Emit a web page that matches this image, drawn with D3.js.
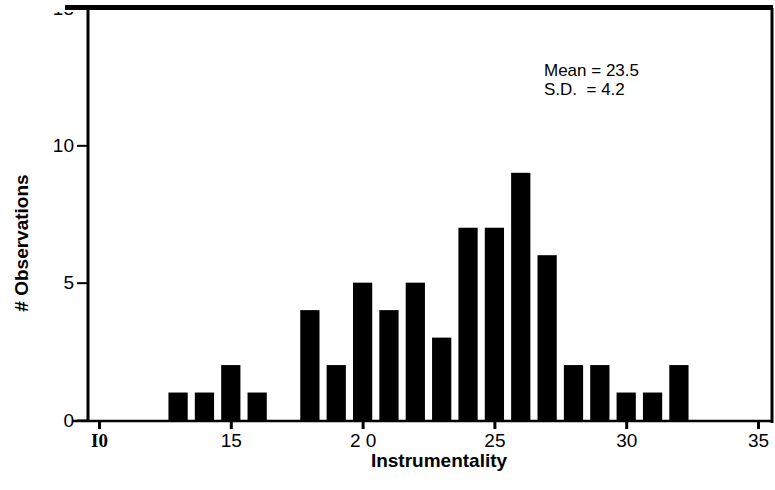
<!DOCTYPE html>
<html><head><meta charset="utf-8">
<script src="https://cdn.jsdelivr.net/npm/d3@7/dist/d3.min.js"></script>
<style>body{margin:0;background:#fff}svg{display:block}</style>
</head><body>
<script>
const scores = [13,14,15,16,17,18,19,20,21,22,23,24,25,26,27,28,29,30,31,32];
const counts = [1,1,2,1,0,4,2,5,4,5,3,7,7,9,6,2,2,1,1,2];
const xTickValues = [10,15,20,25,30,35];
const xTickLabels = ["I0","15","2 0","25","30","35"];
const yTickValues = [0,5,10,15];
const statsLines = ["Mean = 23.5","S.D.  = 4.2"];

const W = 775, H = 490;
const svg = d3.select("body").append("svg").attr("width", W).attr("height", H);
const x = d3.scaleLinear().domain([10,35]).range([99,758]);
const y = d3.scaleLinear().domain([0,15]).range([420,8]);
const bw = (x(1)-x(0))*0.73;

// bars
svg.append("g").selectAll("rect").data(scores.map((s,i)=>({s,c:counts[i]})).filter(d=>d.c>0))
  .join("rect")
  .attr("x", d=>x(d.s)-bw/2).attr("width", bw)
  .attr("y", d=>y(d.c)).attr("height", d=>y(0)-y(d.c))
  .attr("fill","#000");

// frame
svg.append("line").attr("x1",65).attr("x2",773).attr("y1",7.5).attr("y2",7.5).attr("stroke","#000").attr("stroke-width",5);
svg.append("line").attr("x1",772).attr("x2",772).attr("y1",8).attr("y2",423).attr("stroke","#000").attr("stroke-width",3);

// x axis
const xa = svg.append("g").attr("transform","translate(0,421)")
  .call(d3.axisBottom(x).tickValues(xTickValues).tickSize(8).tickFormat((d,i)=>xTickLabels[i]));
xa.select(".domain").remove();
xa.append("line").attr("x1",73).attr("x2",773).attr("stroke","#000").attr("stroke-width",2.5);
xa.selectAll(".tick line").attr("stroke","#000").attr("stroke-width",3);
xa.selectAll(".tick text").attr("fill","#000")
  .attr("font-size",19).attr("dy","0.75em").attr("y",12)
  .attr("font-weight",(d,i)=>i===0?"bold":"normal")
  .attr("font-family",(d,i)=>i===0?"Liberation Serif, serif":"Liberation Sans, Arial, sans-serif");

// y axis (top tick label partially cut off, as in the reference)
svg.append("clipPath").attr("id","c").append("rect").attr("x",-100).attr("y",12).attr("width",W).attr("height",H);
const ya = svg.append("g").attr("transform","translate(88,0)").attr("clip-path","url(#c)")
  .call(d3.axisLeft(y).tickValues(yTickValues).tickSize(11).tickFormat(d3.format("d")));
ya.select(".domain").remove();
ya.selectAll(".tick line").attr("stroke","#000").attr("stroke-width",2);
ya.selectAll(".tick text").attr("fill","#000").attr("font-family","Liberation Sans, Arial, sans-serif")
  .attr("font-size",19).attr("x",-14);
svg.append("line").attr("x1",88).attr("x2",88).attr("y1",8).attr("y2",422).attr("stroke","#000").attr("stroke-width",3);

// titles
svg.append("text").attr("x",439).attr("y",467).attr("text-anchor","middle")
  .attr("font-family","Liberation Sans, Arial, sans-serif").attr("font-weight","bold").attr("font-size",19)
  .text("Instrumentality");
svg.append("text").attr("transform","translate(28,243) rotate(-90)").attr("text-anchor","middle")
  .attr("font-family","Liberation Sans, Arial, sans-serif").attr("font-weight","bold").attr("font-size",19)
  .text("# Observations");

// stats
svg.append("g").selectAll("text").data(statsLines).join("text")
  .attr("x",544).attr("y",(d,i)=>76+i*19)
  .attr("font-family","Liberation Sans, Arial, sans-serif").attr("font-size",17)
  .attr("xml:space","preserve").style("white-space","pre")
  .text(d=>d);
</script>
</body></html>
